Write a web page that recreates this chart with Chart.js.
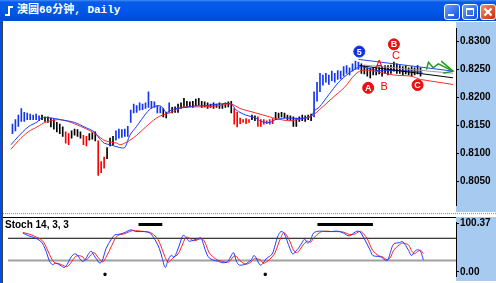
<!DOCTYPE html>
<html>
<head>
<meta charset="utf-8">
<script src="https://cdn.jsdelivr.net/npm/chart.js@4.4.1/dist/chart.umd.min.js"></script>
<style>
html, body { margin: 0; padding: 0; }
body { width: 496px; height: 283px; overflow: hidden; position: relative; background: #fff; font-family: "Liberation Sans", Arial, sans-serif; }
#titleBar { position: absolute; left: 0; top: 0; width: 496px; height: 21px;
  background: linear-gradient(#3d8ff8 0, #0a5ce8 2px, #0058e6 50%, #004ad8 100%); }
#titleBar .ico { position: absolute; left: 8px; top: 6px; width: 2px; height: 10px; background: #fff; }
#titleBar .ico:after { content: ""; position: absolute; left: -3px; top: 8px; width: 5px; height: 2px; background: #fff; }
#titleBar .ico:before { content: ""; position: absolute; left: 2px; top: 0; width: 3px; height: 2px; background: #fff; }
#titleBar .txt { position: absolute; left: 17px; top: 3px; color: #fff; font: bold 11px "Liberation Mono", "Noto Sans CJK SC", monospace; line-height: 15px; white-space: nowrap; }
.btn { position: absolute; top: 4px; width: 16px; height: 16px; box-sizing: border-box; border: 1px solid #fff; border-radius: 3px;
  background: linear-gradient(135deg, #6aa4ff, #2a64e6 70%, #1c50d0); }
.btn.min { left: 444px; } .btn.max { left: 462px; } .btn.cls { left: 480px; background: linear-gradient(135deg, #f09070, #d84a2a 70%, #b83010); }
.btn.min:after { content: ""; position: absolute; left: 3px; top: 9px; width: 6px; height: 2px; background: #fff; }
.btn.max:after { content: ""; position: absolute; left: 3px; top: 3px; width: 6px; height: 5px; border: 1px solid #fff; border-top-width: 2px; }
.btn.cls:before, .btn.cls:after { content: ""; position: absolute; left: 6px; top: 2px; width: 2px; height: 10px; background: #fff; transform: rotate(45deg); }
.btn.cls:after { transform: rotate(-45deg); }
#frameLeft { position: absolute; left: 0; top: 21px; width: 2px; height: 262px; background: #0050e0; }
#frameLine { position: absolute; left: 2px; top: 21px; width: 1px; height: 262px; background: #404040; }
#mainBox { position: absolute; left: 3px; top: 22px; }
#sep { position: absolute; left: 3px; top: 213px; width: 493px; height: 0; border-top: 1px dotted #909090; }
#stochBox { position: absolute; left: 3px; top: 217px; }
#stochLabel { position: absolute; left: 5px; top: 219px; font: bold 10px "Liberation Sans", Arial, sans-serif; color: #000; }
</style>
</head>
<body>
<div id="titleBar"><span class="ico"></span><span class="txt">澳圆60分钟, Daily</span>
  <div class="btn min"></div><div class="btn max"></div><div class="btn cls"></div></div>
<div id="frameLeft"></div><div id="frameLine"></div>
<div id="mainBox"><canvas id="mainChart" width="493" height="190"></canvas></div>
<div id="sep"></div>
<div id="stochBox"><canvas id="stochChart" width="493" height="64"></canvas></div>
<div id="stochLabel">Stoch 14, 3, 3</div>
<script>
// ====== price bars (one per hour, index = bar number) ======
const barHigh = [
  0.8152,0.8160,0.8168,0.8180,0.8173,0.8172,0.8170,0.8168,0.8170,0.8167,
  0.8168,0.8165,0.8165,0.8163,0.8160,0.8155,0.8152,0.8147,0.8138,0.8135,
  0.8140,0.8143,0.8142,0.8138,0.8132,0.8130,0.8135,0.8137,0.8138,0.8122,
  0.8085,0.8093,0.8110,0.8127,0.8130,0.8140,0.8143,0.8142,0.8143,0.8148,
  0.8177,0.8188,0.8185,0.8190,0.8188,0.8190,0.8210,0.8193,0.8192,0.8185,
  0.8183,0.8180,0.8173,0.8190,0.8182,0.8183,0.8188,0.8190,0.8198,0.8193,
  0.8192,0.8193,0.8197,0.8198,0.8193,0.8192,0.8190,0.8188,0.8190,0.8188,
  0.8190,0.8188,0.8190,0.8192,0.8193,0.8180,0.8173,0.8163,0.8160,0.8162,
  0.8160,0.8168,0.8167,0.8165,0.8160,0.8160,0.8158,0.8160,0.8162,0.8173,
  0.8172,0.8173,0.8172,0.8168,0.8167,0.8165,0.8163,0.8165,0.8168,0.8167,
  0.8168,0.8170,0.8210,0.8227,0.8243,0.8240,0.8243,0.8240,0.8247,0.8243,
  0.8248,0.8247,0.8255,0.8257,0.8253,0.8260,0.8265,0.8263,0.8260,0.8257,
  0.8253,0.8252,0.8253,0.8255,0.8253,0.8255,0.8257,0.8257,0.8258,0.8263,
  0.8260,0.8257,0.8255,0.8257,0.8253,0.8255,0.8253,0.8257,0.8253
];
const barLow = [
  0.8135,0.8140,0.8148,0.8157,0.8157,0.8160,0.8160,0.8160,0.8160,0.8158,
  0.8160,0.8157,0.8155,0.8147,0.8143,0.8138,0.8135,0.8130,0.8118,0.8115,
  0.8127,0.8132,0.8130,0.8127,0.8115,0.8113,0.8123,0.8125,0.8122,0.8060,
  0.8065,0.8073,0.8090,0.8113,0.8115,0.8123,0.8127,0.8128,0.8130,0.8130,
  0.8155,0.8172,0.8173,0.8177,0.8178,0.8180,0.8182,0.8180,0.8182,0.8172,
  0.8172,0.8165,0.8163,0.8173,0.8172,0.8173,0.8173,0.8180,0.8182,0.8182,
  0.8183,0.8182,0.8185,0.8187,0.8182,0.8183,0.8180,0.8182,0.8180,0.8182,
  0.8180,0.8180,0.8182,0.8183,0.8172,0.8152,0.8147,0.8153,0.8155,0.8153,
  0.8155,0.8160,0.8158,0.8148,0.8148,0.8152,0.8153,0.8152,0.8153,0.8160,
  0.8163,0.8165,0.8163,0.8160,0.8158,0.8148,0.8148,0.8157,0.8158,0.8157,
  0.8160,0.8158,0.8165,0.8193,0.8210,0.8222,0.8227,0.8223,0.8230,0.8227,
  0.8232,0.8233,0.8238,0.8243,0.8240,0.8247,0.8250,0.8250,0.8243,0.8242,
  0.8238,0.8235,0.8240,0.8240,0.8242,0.8238,0.8243,0.8240,0.8243,0.8247,
  0.8243,0.8243,0.8240,0.8242,0.8240,0.8238,0.8240,0.8242,0.8238
];
// u = above both averages, n = between, d = below
const barTrend = ('uuuuuuuuuu' + 'nnnnnnnn' + 'dd' + 'nnnn' + 'dd' + 'nnn' + 'ddd' + 'nnn' +
  'uuuuuuuuuuuuuuuu' + 'nn' + 'u' + 'nnnnnnnnnnnnnnnnnnnnn' + 'dddddd' + 'nn' + 'dddddd' +
  'nnnnnnnnnnnnn' + 'uuuuuuuuuuuuuuuu' + 'nnnnnnnnnnnnnnnnnnnnn').split('');

// moving averages, read at points along the line
const fastMaX = [-0.5,2,5.3,8.7,9.7,13,16.3,21,24.3,27.7,29.3,31,33,36.3,38,39.7,42,45.3,47.3,49.7,50.7,52,53.7,55.3,58.7,62,65.3,69.7,74,75.7,79,82.3,84,87,89,92.3,97,100.7,102.3,103.7,107,110.3,113.7,116.3,118,120.3,123.7,129,134.7,138.7];
const fastMa  = [0.8115,0.8130,0.8147,0.8157,0.8163,0.8163,0.8160,0.8155,0.8147,0.8138,0.8127,0.8118,0.8115,0.8110,0.8110,0.8132,0.8148,0.8172,0.8182,0.8185,0.8182,0.8173,0.8177,0.8180,0.8182,0.8185,0.8185,0.8188,0.8188,0.8177,0.8168,0.8163,0.8157,0.8155,0.8160,0.8163,0.8162,0.8165,0.8177,0.8182,0.8205,0.8227,0.8243,0.8252,0.8255,0.8252,0.8248,0.8248,0.8247,0.8245];
const slowMaX = [-0.5,2,5.3,8.7,11,15.3,18.7,23,26.3,28.7,31,33,35.3,36.3,38,39.7,42,45.3,48.7,50.7,53.7,57.3,60.7,65.3,69.7,74,77,82.3,87,89,93.7,98,101.3,104.7,108,112.3,115.7,118,121.3,129,134.7,138];
const slowMa  = [0.8107,0.8122,0.8138,0.8148,0.8155,0.8160,0.8157,0.8148,0.8140,0.8132,0.8123,0.8120,0.8118,0.8115,0.8118,0.8123,0.8132,0.8148,0.8163,0.8168,0.8173,0.8182,0.8183,0.8183,0.8185,0.8188,0.8180,0.8172,0.8165,0.8162,0.8158,0.8162,0.8167,0.8182,0.8198,0.8218,0.8240,0.8248,0.8248,0.8240,0.8238,0.8232];

// hand drawn lines: [bar, price] end points
const blueTrend  = [[117, 0.8268], [149, 0.8247]];
const blackTrend = [[117.3, 0.8257], [149, 0.8235]];
const grayTrend  = [[118.7, 0.8258], [149, 0.8243]];
const redTrend   = [[138, 0.8232], [149, 0.8223]];
const greenArrow = [[140, 0.8250], [140.7, 0.8263], [142.3, 0.8253], [144, 0.8260], [149, 0.8247]];
const greenHead  = [[145, 0.8265], [149, 0.8247], [145.7, 0.8243]];

// wave marks
const circleText = ['5', 'B', 'A', 'C'];
const circleX    = [117.3, 129, 120.3, 137];
const circleY    = [0.8282, 0.8295, 0.8217, 0.8222];
const waveText   = ['A', 'C', 'B'];
const waveX      = [124, 129.7, 125.7];
const waveY      = [0.8258, 0.8275, 0.8218];

const priceTicks = [0.8050, 0.8100, 0.8150, 0.8200, 0.8250, 0.8300];

// ====== stochastic 14,3,3 ======
const stochX = [4,6,8,10,11,12,13,14,15,16,17,18,19,20,21,22,24,25,26,27,28,29,30,31,32,34,35,36,38,40,41,42,45,47,49,50,51,52,53,54,55,56,57,58,59,60,61,62,63,64,65,66,67,69,70,71,73,74,75,76,77,79,80,81,82,84,85,86,88,89,90,91,92,94,95,96,97,98,99,100,101,102,104,106,108,110,112,114,116,117,118,120,121,122,124,125,126,127,128,129,131,132,134,135,136,137,138,139];
const stochK = [81,75,71,64,55,40,22,15,18,16,12,9,16,28,36,37,22,25,36,43,34,25,18,27,48,70,77,78,81,87,87,84,84,80,62,49,28,9,25,34,31,43,60,76,72,64,65,67,69,71,55,37,28,23,22,19,21,31,40,22,14,16,20,25,34,14,18,27,37,55,75,84,81,49,37,43,50,60,68,60,66,81,85,84,84,85,81,75,83,85,81,58,46,34,32,30,25,25,43,58,61,63,45,34,42,46,43,25];
const stochD = [82,79,74,68,62,50,36,24,18,17,15,12,11,17,26,33,32,25,28,36,40,33,25,21,30,55,68,76,79,84,86,86,84,82,72,62,46,30,20,25,31,35,45,60,72,71,66,65,67,69,66,52,38,27,24,22,20,24,32,32,24,16,17,21,27,25,18,20,31,40,56,72,82,64,48,40,43,52,60,64,62,70,82,85,84,84,83,78,79,83,84,70,56,44,33,32,28,25,31,45,57,60,56,44,38,42,45,38];
const stochLevels = [70, 23.5];
const signalBars = [[43, 51], [103.3, 122]];   // thick marks near the top
const signalValue = 98.8;
const dotX = [31.7, 85.7];
const dotValue = -5.3;
const stochTicks = [0, 100.37];

// ====== helpers ======
const trendColor = { u: '#1434f0', n: '#000000', d: '#ff0000' };
const pts = (xs, ys) => xs.map((x, i) => ({ x: x, y: ys[i] }));
const pairPts = arr => arr.map(p => ({ x: p[0], y: p[1] }));
const axisFont = { family: 'Liberation Sans', size: 10, weight: 'bold' };

const panelBg = {
    id: 'panelBg',
    beforeDraw(chart) {
        const { ctx, chartArea } = chart;
        ctx.save();
        ctx.fillStyle = '#ffffff';
        ctx.fillRect(0, 0, chart.width, chart.height);
        ctx.fillStyle = '#a6caf0';
        ctx.fillRect(chartArea.right, 0, chart.width - chartArea.right, chart.height);
        ctx.restore();
    }
};

const markLabels = {
    id: 'markLabels',
    afterDatasetsDraw(chart) {
        const { ctx } = chart;
        const x = chart.scales.x, y = chart.scales.y;
        ctx.save();
        ctx.textAlign = 'center';
        ctx.textBaseline = 'middle';
        ctx.font = 'bold 9px "Liberation Sans"';
        ctx.fillStyle = '#ffffff';
        circleText.forEach((t, i) => {
            ctx.fillText(t, x.getPixelForValue(circleX[i]), y.getPixelForValue(circleY[i]) + 0.5);
        });
        ctx.font = '11px "Liberation Sans"';
        ctx.fillStyle = '#ff0000';
        waveText.forEach((t, i) => {
            ctx.fillText(t, x.getPixelForValue(waveX[i]), y.getPixelForValue(waveY[i]));
        });
        ctx.restore();
    }
};

const topLine = {
    id: 'topLine',
    afterDraw(chart) {
        const { ctx, chartArea } = chart;
        ctx.save();
        ctx.fillStyle = '#000';
        ctx.fillRect(0, 0, chartArea.right, 1);
        ctx.restore();
    }
};

function rightAxis(min, max, tickValues, digits) {
    return {
        position: 'right',
        min: min,
        max: max,
        afterBuildTicks: s => { s.ticks = tickValues.map(v => ({ value: v })); },
        afterFit: s => { s.width = 40; s.paddingTop = 0; s.paddingBottom = 0; },
        ticks: { padding: 1, color: '#000', font: axisFont, callback: v => Number(v).toFixed(digits) },
        grid: { drawOnChartArea: false, drawTicks: true, tickLength: 3, color: '#000' },
        border: { display: true, color: '#000', dash: [1, 1] }
    };
}

const xAxis = { type: 'linear', min: -1, max: 150, offset: false, grid: { offset: false }, display: false };

function lineSet(data, color, width, order) {
    return { type: 'line', data: data, borderColor: color, borderWidth: width, pointRadius: 0, tension: 0, order: order };
}

// ====== main price chart ======
function initMainChart() {
    const ctx = document.getElementById('mainChart');
    const datasets = [
        {
            type: 'bar',
            data: barHigh.map((h, i) => ({ x: i, y: [barLow[i], h] })),
            backgroundColor: barTrend.map(c => trendColor[c]),
            barThickness: 1,
            order: 5
        },
        Object.assign(lineSet(pts(fastMaX, fastMa), '#1e3cff', 1, 3), { tension: 0.3 }),
        Object.assign(lineSet(pts(slowMaX, slowMa), '#ff2a2a', 1, 3), { tension: 0.3 }),
        lineSet(pairPts(grayTrend), '#a0a0a0', 1, 2),
        lineSet(pairPts(blackTrend), '#000000', 1, 2),
        lineSet(pairPts(blueTrend), '#2448f0', 1, 2),
        lineSet(pairPts(redTrend), '#ff2a2a', 1, 2),
        lineSet(pairPts(greenArrow), '#1e9e1e', 1.5, 1),
        lineSet(pairPts(greenHead), '#1e9e1e', 1.5, 1),
        {
            type: 'scatter',
            data: pts(circleX, circleY),
            pointRadius: 5.5,
            pointBackgroundColor: circleText.map(t => t === '5' ? '#1030e8' : '#e81010'),
            pointBorderColor: circleText.map(t => t === '5' ? '#1030e8' : '#e81010'),
            order: 0
        }
    ];
    new Chart(ctx, {
        type: 'bar',
        data: { datasets: datasets },
        options: {
            responsive: false,
            animation: false,
            layout: { padding: 0 },
            scales: {
                x: xAxis,
                y: rightAxis(0.80061, 0.83234, priceTicks, 4)
            },
            plugins: { legend: { display: false }, tooltip: { enabled: false } }
        },
        plugins: [panelBg, markLabels]
    });
}

// ====== stochastic panel ======
function initStochChart() {
    const ctx = document.getElementById('stochChart');
    const datasets = [
        lineSet([{ x: -1, y: stochLevels[0] }, { x: 150, y: stochLevels[0] }], '#000000', 1, 4),
        lineSet([{ x: -1, y: stochLevels[1] }, { x: 150, y: stochLevels[1] }], '#a0a0a0', 2, 4),
        Object.assign(lineSet(pts(stochX, stochD), '#ff2020', 1, 2), { tension: 0.35 }),
        Object.assign(lineSet(pts(stochX, stochK), '#1e3cff', 1, 1), { tension: 0.35 })
    ];
    signalBars.forEach(b => {
        datasets.push(lineSet([{ x: b[0], y: signalValue }, { x: b[1], y: signalValue }], '#000000', 3, 3));
    });
    datasets.push({
        type: 'scatter',
        data: dotX.map(x => ({ x: x, y: dotValue })),
        pointStyle: 'rect',
        pointRadius: 1.5,
        pointBackgroundColor: '#000',
        pointBorderColor: '#000',
        order: 0
    });
    new Chart(ctx, {
        type: 'line',
        data: { datasets: datasets },
        options: {
            responsive: false,
            animation: false,
            layout: { padding: 0 },
            scales: {
                x: xAxis,
                y: rightAxis(-8.8, 104, stochTicks, 2)
            },
            plugins: { legend: { display: false }, tooltip: { enabled: false } }
        },
        plugins: [panelBg, topLine]
    });
}

initMainChart();
initStochChart();
</script>
</body>
</html>
